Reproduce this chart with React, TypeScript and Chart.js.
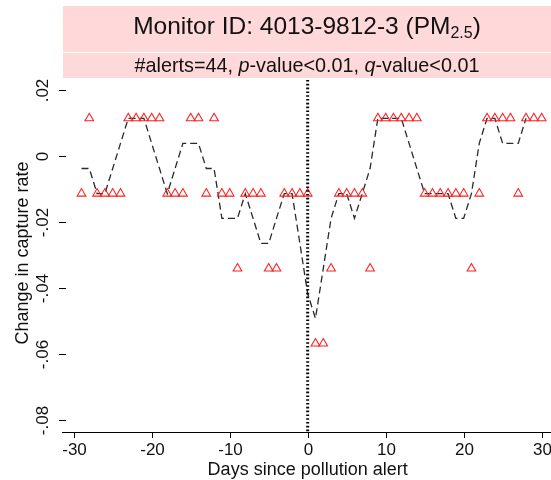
import React, { useEffect, useRef } from "react";
import { Chart, registerables } from "chart.js";

Chart.register(...registerables);

// ---------- data ----------
const days = [
  -29, -28, -27, -26, -25, -24, -23, -22, -21, -20,
  -19, -18, -17, -16, -15, -14, -13, -12, -11, -10,
  -9, -8, -7, -6, -5, -4, -3, -2, -1, 0,
  1, 2, 3, 4, 5, 6, 7, 8, 9, 10,
  11, 12, 13, 14, 15, 16, 17, 18, 19, 20,
  21, 22, 23, 24, 25, 26, 27, 28, 29, 30,
];
const captureChange = [
  -0.0114, 0.0114, -0.0114, -0.0114, -0.0114, -0.0114, 0.0114, 0.0114, 0.0114, 0.0114,
  0.0114, -0.0114, -0.0114, -0.0114, 0.0114, 0.0114, -0.0114, 0.0114, -0.0114, -0.0114,
  -0.0341, -0.0114, -0.0114, -0.0114, -0.0341, -0.0341, -0.0114, -0.0114, -0.0114, -0.0114,
  -0.0568, -0.0568, -0.0341, -0.0114, -0.0114, -0.0114, -0.0114, -0.0341, 0.0114, 0.0114,
  0.0114, 0.0114, 0.0114, 0.0114, -0.0114, -0.0114, -0.0114, -0.0114, -0.0114, -0.0114,
  -0.0341, -0.0114, 0.0114, 0.0114, 0.0114, 0.0114, -0.0114, 0.0114, 0.0114, 0.0114,
];
const smoothDays = [
  -29, -28, -27, -26, -25, -24, -23, -22, -21, -20,
  -19, -18, -17, -16, -15, -14, -13, -12, -11, -10,
  -9, -8, -7, -6, -5, -4, -3, -2, -1, 0,
  1, 2, 3, 4, 5, 6, 7, 8, 9, 10,
  11, 12, 13, 14, 15, 16, 17, 18, 19, 20,
  21, 22, 23, 24, 25, 26, 27, 28,
];
const smoothChange = [
  -0.0038, -0.0038, -0.0114, -0.0114, -0.0038, 0.0038, 0.0114, 0.0114, 0.0114, 0.0038,
  -0.0038, -0.0114, -0.0038, 0.0038, 0.0038, 0.0038, -0.0038, -0.0038, -0.0189, -0.0189,
  -0.0189, -0.0114, -0.0189, -0.0265, -0.0265, -0.0189, -0.0114, -0.0114, -0.0265, -0.0417,
  -0.0492, -0.0341, -0.0189, -0.0114, -0.0114, -0.0189, -0.0114, -0.0038, 0.0114, 0.0114,
  0.0114, 0.0114, 0.0038, -0.0038, -0.0114, -0.0114, -0.0114, -0.0114, -0.0189, -0.0189,
  -0.0114, 0.0038, 0.0114, 0.0114, 0.0038, 0.0038, 0.0038, 0.0114,
];
const xTickValues = [-30, -20, -10, 0, 10, 20, 30];
const xTickLabels = ["-30", "-20", "-10", "0", "10", "20", "30"];
const yTickValues = [0.02, 0, -0.02, -0.04, -0.06, -0.08];
const yTickLabels = [".02", "0", "-.02", "-.04", "-.06", "-.08"];
const alertDay = 0;
const titleMain = "Monitor ID: 4013-9812-3 (PM";
const titleSub = "2.5";
const titleEnd = ")";
const subtitleParts = [
  { text: "#alerts=44, ", italic: false },
  { text: "p", italic: true },
  { text: "-value<0.01, ", italic: false },
  { text: "q", italic: true },
  { text: "-value<0.01", italic: false },
];
const xTitle = "Days since pollution alert";
const yTitle = "Change in capture rate";

// ---------- styling ----------
const FONT = '"Liberation Sans", Arial, Helvetica, sans-serif';
const PINK = "#ffd9d9";
const RED = "#ff2020";
const TEXT = "#111111";

const overlayPlugin = {
  id: "stataOverlay",
  afterDatasetsDraw(chart: any) {
    const ctx = chart.ctx;
    const { top, bottom } = chart.chartArea;
    const x = chart.scales.x.getPixelForValue(alertDay);
    ctx.save();
    ctx.strokeStyle = "#000";
    ctx.lineWidth = 3;
    ctx.setLineDash([1.6, 2.2]);
    ctx.beginPath();
    ctx.moveTo(x, top);
    ctx.lineTo(x, bottom);
    ctx.stroke();
    ctx.restore();
  },
  afterDraw(chart: any) {
    const ctx = chart.ctx;
    const { left, right, bottom } = chart.chartArea;
    const xs = chart.scales.x;
    const ys = chart.scales.y;
    const boxRight = chart.width;
    ctx.save();

    // header boxes
    ctx.fillStyle = PINK;
    ctx.fillRect(63, 6, boxRight - 63, 46);
    ctx.fillRect(63, 53, boxRight - 63, 25);
    const cx = (63 + boxRight) / 2;

    // title with subscript
    ctx.fillStyle = TEXT;
    ctx.textBaseline = "alphabetic";
    ctx.textAlign = "left";
    const mainFont = `24.5px ${FONT}`;
    const subFont = `16px ${FONT}`;
    ctx.font = mainFont;
    const w1 = ctx.measureText(titleMain).width;
    const w3 = ctx.measureText(titleEnd).width;
    ctx.font = subFont;
    const w2 = ctx.measureText(titleSub).width;
    let tx = cx - (w1 + w2 + w3) / 2;
    ctx.font = mainFont;
    ctx.fillText(titleMain, tx, 34);
    tx += w1;
    ctx.font = subFont;
    ctx.fillText(titleSub, tx, 38);
    tx += w2;
    ctx.font = mainFont;
    ctx.fillText(titleEnd, tx, 34);

    // subtitle with italics
    const fontFor = (it: boolean) => `${it ? "italic " : ""}19.8px ${FONT}`;
    let total = 0;
    for (const p of subtitleParts) {
      ctx.font = fontFor(p.italic);
      total += ctx.measureText(p.text).width;
    }
    let sx = cx - total / 2;
    for (const p of subtitleParts) {
      ctx.font = fontFor(p.italic);
      ctx.fillText(p.text, sx, 72);
      sx += ctx.measureText(p.text).width;
    }

    // x axis
    ctx.strokeStyle = "#000";
    ctx.lineWidth = 1;
    ctx.beginPath();
    ctx.moveTo(left, bottom + 0.5);
    ctx.lineTo(right, bottom + 0.5);
    ctx.stroke();
    ctx.font = `17px ${FONT}`;
    ctx.textAlign = "center";
    xTickValues.forEach((v, i) => {
      const px = Math.round(xs.getPixelForValue(v)) + 0.5;
      ctx.beginPath();
      ctx.moveTo(px, bottom);
      ctx.lineTo(px, bottom + 6);
      ctx.stroke();
      ctx.fillText(xTickLabels[i], px, 455);
    });
    ctx.font = `18px ${FONT}`;
    ctx.fillText(xTitle, xs.getPixelForValue(alertDay), 475);

    // y axis ticks and rotated labels
    ctx.font = `17px ${FONT}`;
    yTickValues.forEach((v, i) => {
      const py = Math.round(ys.getPixelForValue(v)) + 0.5;
      ctx.beginPath();
      ctx.moveTo(59, py);
      ctx.lineTo(66, py);
      ctx.stroke();
      ctx.save();
      ctx.translate(48, py);
      ctx.rotate(-Math.PI / 2);
      ctx.textAlign = "center";
      ctx.fillText(yTickLabels[i], 0, 0);
      ctx.restore();
    });
    ctx.save();
    ctx.font = `18px ${FONT}`;
    ctx.translate(28, 253);
    ctx.rotate(-Math.PI / 2);
    ctx.textAlign = "center";
    ctx.fillText(yTitle, 0, 0);
    ctx.restore();

    ctx.restore();
  },
};

export default function App() {
  const canvasRef = useRef<HTMLCanvasElement | null>(null);

  useEffect(() => {
    document.body.style.margin = "0";
    const canvas = canvasRef.current;
    if (!canvas) return;
    const chart = new Chart(canvas, {
      type: "scatter",
      data: {
        datasets: [
          {
            label: "Alerts",
            data: days.map((d, i) => ({ x: d, y: captureChange[i] })),
            showLine: false,
            pointStyle: "triangle",
            pointRadius: 5,
            pointBorderWidth: 1.1,
            borderColor: RED,
            pointBorderColor: RED,
            backgroundColor: "rgba(255,255,255,0)",
            pointBackgroundColor: "rgba(255,255,255,0)",
          },
          {
            label: "Smoothed",
            data: smoothDays.map((d, i) => ({ x: d, y: smoothChange[i] })),
            showLine: true,
            borderColor: "#2a2a2a",
            borderWidth: 1.3,
            borderDash: [7, 4],
            pointRadius: 0,
            tension: 0,
            fill: false,
          },
        ],
      },
      options: {
        animation: false,
        responsive: false,
        devicePixelRatio: 1,
        layout: { autoPadding: false, padding: { left: 62, right: 0, top: 80, bottom: 48 } },
        plugins: {
          legend: { display: false },
          tooltip: { enabled: false },
          title: { display: false },
        },
        scales: {
          x: { type: "linear", min: -31.5, max: 31.2, display: false },
          y: { type: "linear", min: -0.0836, max: 0.023, display: false },
        },
      },
      plugins: [overlayPlugin],
    });
    return () => chart.destroy();
  }, []);

  return (
    <div style={{ position: "fixed", left: 0, top: 0, width: 551, height: 480, background: "#fff" }}>
      <canvas ref={canvasRef} width={551} height={480} style={{ width: 551, height: 480, display: "block" }} />
    </div>
  );
}
